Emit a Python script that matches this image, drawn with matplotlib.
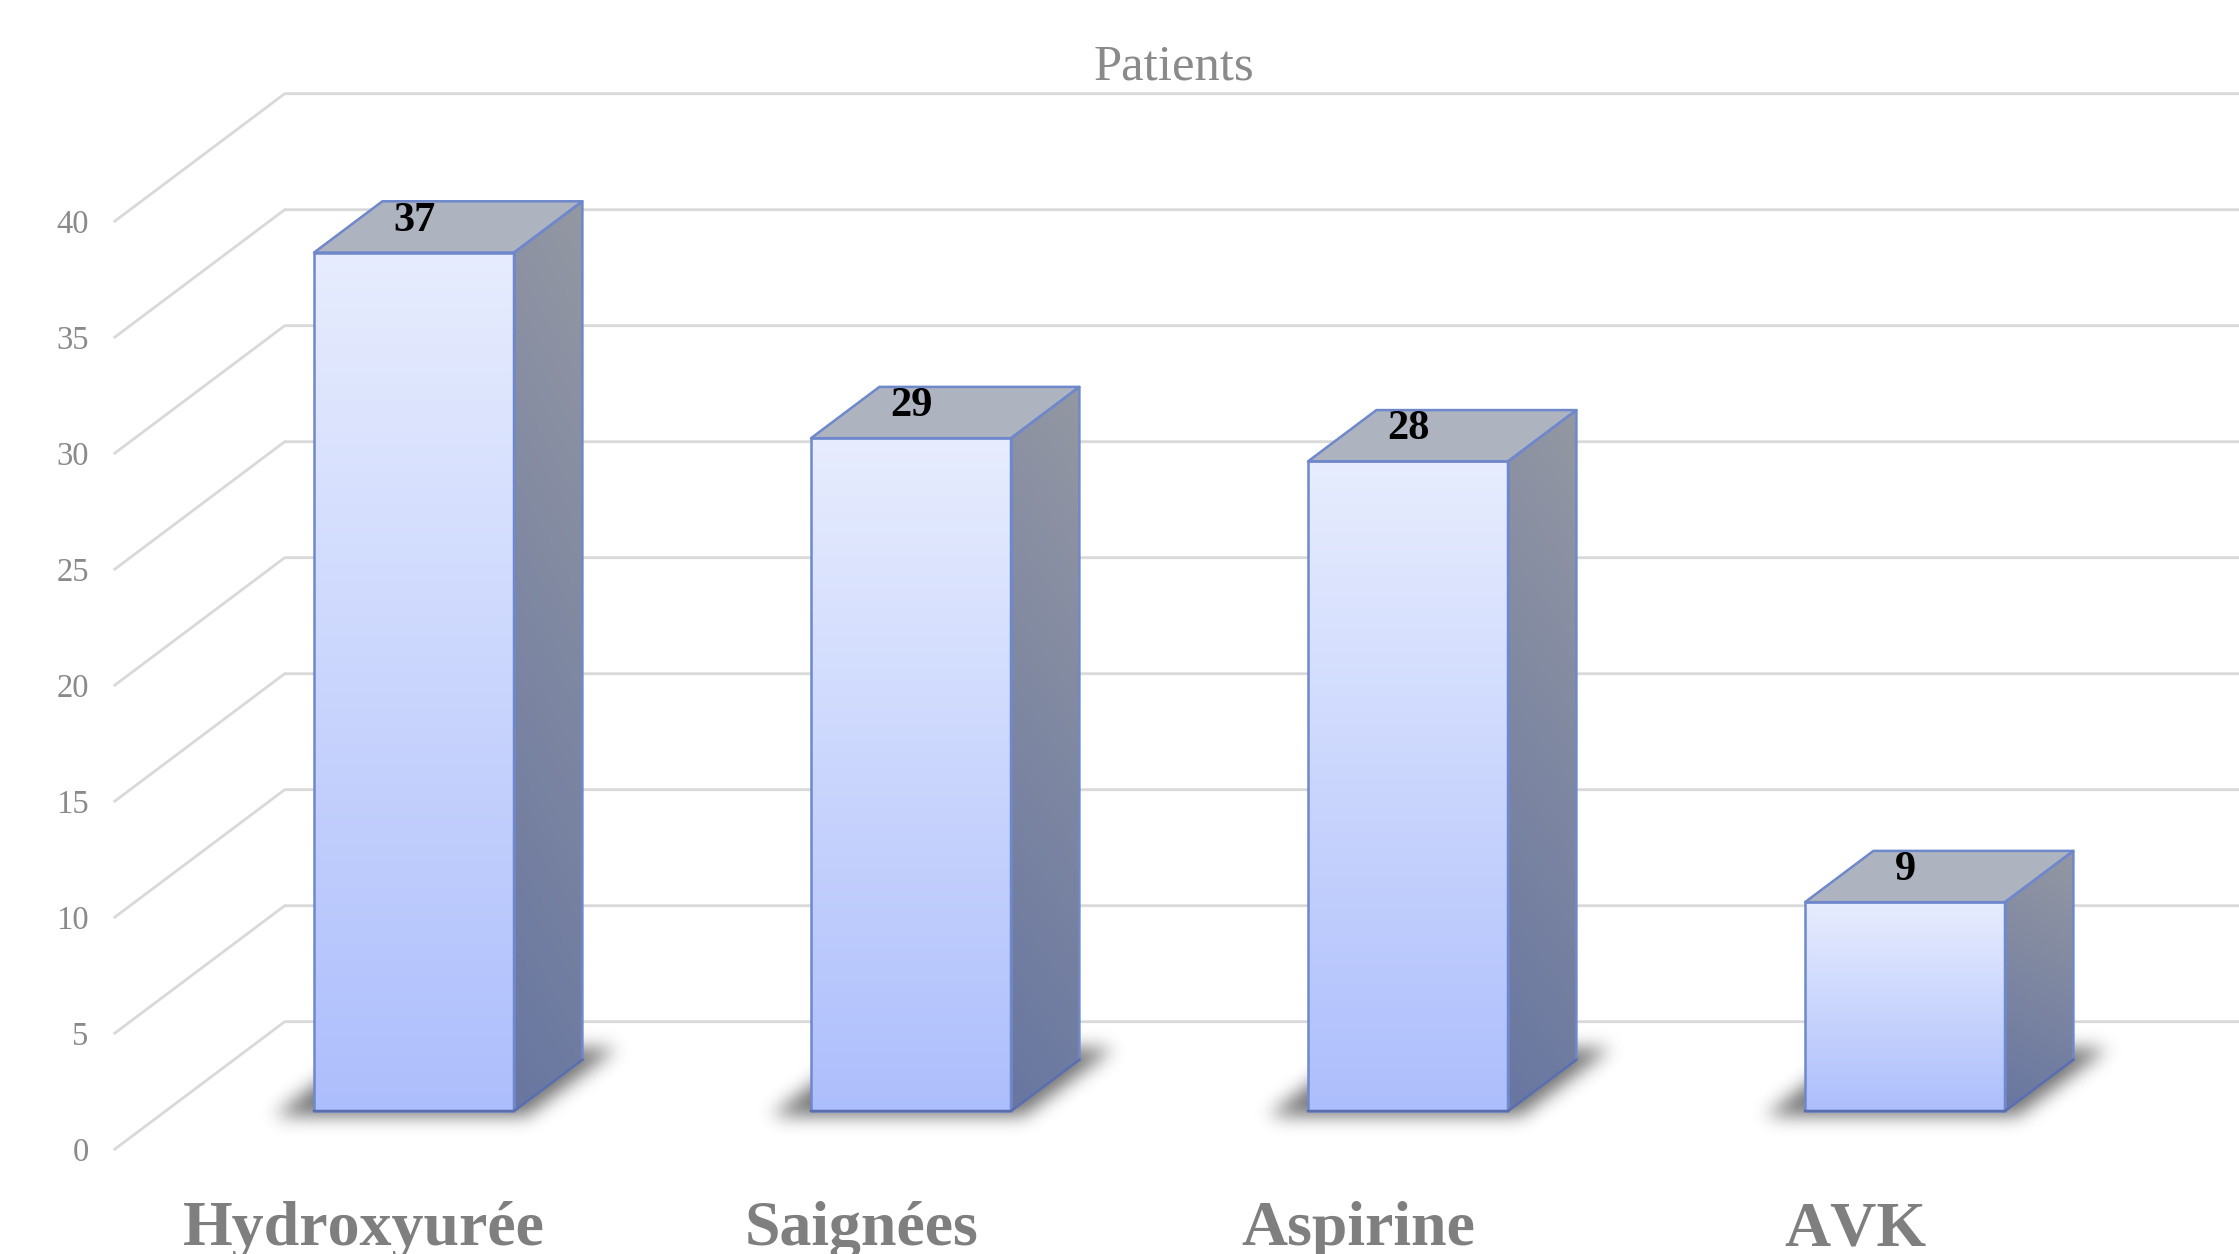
import numpy as np
import matplotlib
matplotlib.use('Agg')
import matplotlib.pyplot as plt
from matplotlib.patches import Polygon
from matplotlib.path import Path

# Datos
categories = ['Hydroxyurée', 'Saignées', 'Aspirine', 'AVK']
patients = [37, 29, 28, 9]
grid_values = [0, 5, 10, 15, 20, 25, 30, 35, 40]
title = 'Patients'

# Escala: pixeles por categoria y por unidad de valor
W, H = 2239, 1254
PX_CAT = 497.0
PX_VAL = 23.2
x0_px = 414.0   # centro de la primera barra
y0_px = 1150.0  # valor 0 en el plano frontal

# Vector de profundidad de la caja 3D, en unidades de datos
WALL_DX = 171.0 / PX_CAT
WALL_DY = 128.3 / PX_VAL
BAR_START = 0.304
BAR_DEPTH = 0.40
BAR_HALF = 100.0 / PX_CAT
WALL_X = (113.7 - x0_px) / PX_CAT
X_RIGHT = (W - x0_px) / PX_CAT


def project(x, v, d):
    # x categoria, v valor, d profundidad -> coordenadas del eje
    return x + d * WALL_DX, v + d * WALL_DY


def gradient_face(ax, pts, stops, tilt=0.0, zorder=4):
    # Cara rellena con un degradado, recortada al poligono
    pts = np.array(pts)
    x1, x2 = pts[:, 0].min(), pts[:, 0].max()
    y1, y2 = pts[:, 1].min(), pts[:, 1].max()
    xx, yy = np.meshgrid(np.linspace(0, 1, 60), np.linspace(0, 1, 300))
    t = np.clip(yy * (1 - tilt) + (1 - xx) * tilt, 0, 1)[..., None]
    img = np.array(stops[0]) * (1 - t) + np.array(stops[1]) * t
    im = ax.imshow(img / 255.0, extent=(x1, x2, y1, y2), origin='upper',
                   aspect='auto', zorder=zorder, interpolation='bilinear')
    clip = Polygon(pts, closed=True, transform=ax.transData, fc='none', ec='none')
    ax.add_patch(clip)
    im.set_clip_path(clip)


def blurred_shadow(ax, pts, sigma_px=9.0, strength=0.56):
    # Sombra difusa sobre el suelo
    pts = np.array(pts)
    pad_x, pad_y = 32 / PX_CAT, 32 / PX_VAL
    x1, x2 = pts[:, 0].min() - pad_x, pts[:, 0].max() + pad_x
    y1, y2 = pts[:, 1].min() - pad_y, pts[:, 1].max() + pad_y
    nx = int((x2 - x1) * PX_CAT)
    ny = int((y2 - y1) * PX_VAL)
    xs = np.linspace(x1, x2, nx)
    ys = np.linspace(y2, y1, ny)
    xx, yy = np.meshgrid(xs, ys)
    mask = Path(pts).contains_points(np.c_[xx.ravel(), yy.ravel()]).reshape(ny, nx).astype(float)
    r = int(sigma_px * 3)
    kernel = np.exp(-0.5 * (np.arange(-r, r + 1) / sigma_px) ** 2)
    kernel /= kernel.sum()
    mask = np.apply_along_axis(lambda c: np.convolve(c, kernel, mode='same'), 0, mask)
    mask = np.apply_along_axis(lambda c: np.convolve(c, kernel, mode='same'), 1, mask)
    rgba = np.zeros((ny, nx, 4))
    rgba[..., 3] = mask * strength
    ax.imshow(rgba, extent=(x1, x2, y1, y2), origin='upper', aspect='auto',
              zorder=2, interpolation='bilinear')


plt.rcParams['font.family'] = ['Liberation Serif', 'DejaVu Serif']
plt.rcParams['text.kerning_factor'] = 12  # sin kerning apreciable
fig = plt.figure(figsize=(W / 100, H / 100), dpi=100)
ax = fig.add_axes([0, 0, 1, 1])

# Rejilla: diagonal en la pared lateral y horizontal en la del fondo
for v in grid_values:
    bx, by = project(WALL_X, v, 1.0)
    ax.plot([WALL_X, bx, X_RIGHT], [v, by, by], color='#D9D9D9', lw=2.0,
            solid_joinstyle='miter', solid_capstyle='butt', zorder=1)
    ax.text(WALL_X - 25 / PX_CAT, v - 3 / PX_VAL, str(v), ha='right', va='center',
            fontsize=23.5, color='#8A8A8A')

for i, val in enumerate(patients):
    # la cara frontal queda centrada en la categoria
    shift = -BAR_START * WALL_DX
    xl, xr = i - BAR_HALF + shift, i + BAR_HALF + shift
    ds, de = BAR_START, BAR_START + BAR_DEPTH
    fl = project(xl, 0, ds)
    fr = project(xr, 0, ds)
    ftl = project(xl, val, ds)
    ftr = project(xr, val, ds)
    br = project(xr, 0, de)
    btl = project(xl, val, de)
    btr = project(xr, val, de)

    # sombra
    ox, oy = 40 / PX_CAT, 5 / PX_VAL
    far = 1.32
    vec = (BAR_DEPTH * far * WALL_DX, BAR_DEPTH * far * WALL_DY)
    blurred_shadow(ax, [(fl[0] - ox, fl[1] - oy), (fr[0] + ox * 0.3, fr[1] - oy),
                        (fr[0] + ox * 0.3 + vec[0], fr[1] - oy + vec[1]),
                        (fl[0] - ox + vec[0], fl[1] - oy + vec[1])])

    # caras de la barra
    gradient_face(ax, [fl, fr, ftr, ftl], ((231, 237, 254), (173, 190, 252)), zorder=5)
    gradient_face(ax, [fr, br, btr, ftr], ((148, 152, 163), (104, 118, 160)),
                  tilt=0.12, zorder=4)
    top = Polygon([ftl, ftr, btr, btl], closed=True, fc='#ADB3BF', ec='none', zorder=4)
    ax.add_patch(top)

    # contornos
    edge = dict(closed=True, fc='none', ec='#6F88CC', lw=1.8, joinstyle='round', zorder=6)
    ax.add_patch(Polygon([fl, fr, ftr, ftl], **edge))
    ax.add_patch(Polygon([fr, br, btr, ftr], **edge))
    ax.add_patch(Polygon([ftl, ftr, btr, btl], **edge))
    ax.plot([fl[0], fr[0], br[0]], [fl[1], fr[1], br[1]], color='#5A6EAE', lw=1.8, zorder=7)

    # valor sobre la cara superior
    ax.text(i, val + BAR_START * WALL_DY + 32 / PX_VAL, str(val), ha='center', va='center',
            fontsize=30.5, fontweight='bold', color='black', zorder=8)

    # etiqueta de categoria
    ax.text(i - 50 / PX_CAT, -95 / PX_VAL, categories[i], ha='center', va='baseline',
            fontsize=46, fontweight='bold', color='#7F7F7F', zorder=8)

ax.text((1174 - x0_px) / PX_CAT, y0_px / PX_VAL - 67 / PX_VAL, title, ha='center', va='center',
        fontsize=36.5, color='#8A8A8A')

ax.set_xlim(-x0_px / PX_CAT, X_RIGHT)
ax.set_ylim(-(H - y0_px) / PX_VAL, y0_px / PX_VAL)
ax.axis('off')

fig.savefig('out.png', dpi=100, facecolor='white')
